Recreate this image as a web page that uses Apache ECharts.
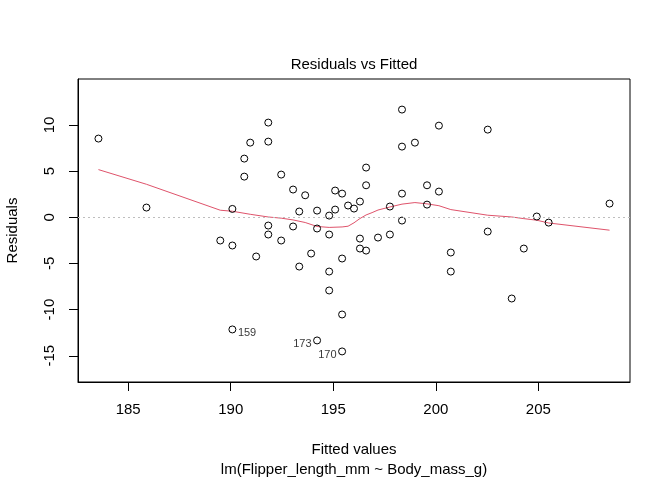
<!DOCTYPE html>
<html>
<head>
<meta charset="utf-8">
<title>Residuals vs Fitted</title>
<script src="https://cdn.jsdelivr.net/npm/echarts@6/dist/echarts.min.js"></script>
<style>
html, body { margin: 0; padding: 0; background: #fff; }
#chart { width: 672px; height: 480px; }
</style>
</head>
<body>
<div id="chart"></div>
<script>
// fitted values and residuals
var fitted = [183.55, 185.89, 189.49, 190.08, 190.08, 190.08, 190.66, 190.66, 190.95, 191.24,
	191.83, 191.83, 191.83, 191.83, 192.46, 192.46, 193.04, 193.04, 193.34, 193.34,
	193.63, 193.92, 194.21, 194.21, 194.21, 194.80, 194.80, 194.80, 194.80, 195.09,
	195.09, 195.43, 195.43, 195.43, 195.43, 195.72, 196.01, 196.30, 196.30, 196.30,
	196.60, 196.60, 196.60, 197.18, 197.76, 197.76, 198.35, 198.35, 198.35, 198.35,
	198.98, 199.57, 199.57, 200.15, 200.15, 200.73, 200.73, 202.53, 202.53, 203.70,
	204.29, 204.92, 205.50, 208.47];
var residuals = [8.52, 1.05, -2.52, 0.90, -3.06, -12.15, 6.35, 4.40, 8.08, -4.25,
	10.25, 8.19, -0.90, -1.87, 4.62, -2.52, 3.00, -1.00, 0.62, -5.34,
	2.38, -3.93, 0.72, -1.22, -13.34, 0.18, -1.87, -5.88, -7.93, 2.89,
	0.83, 2.56, -4.47, -10.53, -14.53, 1.27, 0.94, 1.70, -2.31, -3.39,
	5.38, 3.46, -3.61, -2.20, 1.16, -1.87, 11.66, 7.65, 2.56, -0.36,
	8.08, 3.46, 1.37, 9.92, 2.78, -3.82, -5.88, 9.49, -1.55, -8.80,
	-3.39, 0.08, -0.58, 1.48];

// labelled observations (position in the arrays above, and their case number)
var idIndex = [5, 24, 34];
var idText = ['159', '173', '170'];

// smoother curve
var smoothX = [183.55, 185.89, 189.49, 190.08, 190.95, 191.83, 192.46, 193.04, 193.63, 194.21,
	194.80, 195.43, 195.72, 196.01, 196.30, 196.60, 196.89, 197.18, 197.76, 198.35,
	198.98, 199.57, 200.15, 200.73, 202.53, 203.70, 204.29, 204.92, 205.50, 208.47];
var smoothY = [5.16, 3.57, 0.76, 0.65, 0.32, 0.03, -0.10, -0.29, -0.57, -1.00,
	-1.10, -1.05, -0.97, -0.60, -0.14, 0.25, 0.50, 0.78, 1.11, 1.42,
	1.59, 1.45, 1.25, 0.83, 0.22, 0.03, -0.15, -0.32, -0.62, -1.40];

var xTicks = [185, 190, 195, 200, 205];
var yTicks = [-15, -10, -5, 0, 5, 10];

function extendRange(arr, f) {
	var lo = Math.min.apply(null, arr), hi = Math.max.apply(null, arr);
	var d = (hi - lo) * f;
	return [lo - d, hi + d];
}

var xr = extendRange(fitted, 0.04);
var yr0 = extendRange(residuals, 0.08);
var yr = extendRange(yr0, 0.04);

var fontFam = 'Liberation Sans, Arial, sans-serif';

var points = [];
for (var i = 0; i < fitted.length; i++) {
	points.push([fitted[i], residuals[i]]);
}

// R puts the labels right of the point when left of the middle of the labelled range
var idX = idIndex.map(function(k) { return fitted[k]; });
var idMid = (Math.min.apply(null, idX) + Math.max.apply(null, idX)) / 2;
var idPoints = idIndex.map(function(k, j) {
	var right = fitted[k] <= idMid;
	return {
		value : [fitted[k], residuals[k]],
		label : {
			show : true,
			formatter : idText[j],
			position : right ? 'right' : 'left',
			distance : 2,
			offset : [0, 4],
			color : '#000',
			fontSize : 11,
			fontFamily : fontFam
		}
	};
});

var smoothData = [];
for (var s = 0; s < smoothX.length; s++) {
	smoothData.push([smoothX[s], smoothY[s]]);
}

var myChart = echarts.init(document.getElementById('chart'), null, { renderer : 'canvas' });
var option = {
	animation : false,
	backgroundColor : '#ffffff',
	textStyle : { fontFamily : fontFam, color : '#000' },
	title : {
		text : 'Residuals vs Fitted',
		left : 354,
		top : 57,
		padding : 0,
		textAlign : 'center',
		textStyle : { fontFamily : fontFam, fontSize : 15, fontWeight : 'normal', color : '#000' }
	},
	grid : {
		left : 78, top : 79, width : 552, height : 303,
		show : true,
		borderColor : '#000',
		borderWidth : 1,
		outerBoundsMode : 'none'
	},
	xAxis : {
		type : 'value',
		min : xr[0],
		max : xr[1],
		name : 'Fitted values\nlm(Flipper_length_mm ~ Body_mass_g)',
		nameLocation : 'middle',
		nameGap : 58,
		nameTextStyle : { fontFamily : fontFam, fontSize : 15, color : '#000', lineHeight : 20 },
		axisLine : { show : true, onZero : false, lineStyle : { color : '#000', width : 1 } },
		axisTick : { show : true, inside : false, length : 9, customValues : xTicks, lineStyle : { color : '#000' } },
		axisLabel : { show : true, margin : 20, fontSize : 15, color : '#000', fontFamily : fontFam, customValues : xTicks },
		splitLine : { show : false }
	},
	yAxis : {
		type : 'value',
		min : yr[0],
		max : yr[1],
		name : 'Residuals',
		nameLocation : 'middle',
		nameRotate : 90,
		nameGap : 58,
		nameTextStyle : { fontFamily : fontFam, fontSize : 15, color : '#000' },
		axisLine : { show : true, onZero : false, lineStyle : { color : '#000', width : 1 } },
		axisTick : { show : true, inside : false, length : 9, customValues : yTicks, lineStyle : { color : '#000' } },
		axisLabel : { show : true, rotate : 90, margin : 21, fontSize : 15, color : '#000', fontFamily : fontFam, customValues : yTicks },
		splitLine : { show : false }
	},
	series : [ {
		name : 'residuals',
		type : 'scatter',
		symbol : 'circle',
		symbolSize : 7,
		data : points,
		itemStyle : { color : 'rgba(0,0,0,0)', borderColor : '#000', borderWidth : 1, opacity : 1 },
		markLine : {
			silent : true,
			symbol : 'none',
			label : { show : false },
			lineStyle : { color : '#bebebe', type : [2, 3], width : 1 },
			data : [ { yAxis : 0 } ]
		},
		z : 3
	}, {
		name : 'smoother',
		type : 'line',
		data : smoothData,
		showSymbol : false,
		symbol : 'none',
		smooth : false,
		lineStyle : { color : '#DF536B', width : 1 },
		z : 2
	}, {
		// labels only, the circles come from the first series
		name : 'ids',
		type : 'scatter',
		symbol : 'circle',
		symbolSize : 7,
		data : idPoints,
		itemStyle : { color : 'rgba(0,0,0,0)', borderColor : 'rgba(0,0,0,0)', borderWidth : 0 },
		z : 4
	} ]
};
myChart.setOption(option);
</script>
</body>
</html>
